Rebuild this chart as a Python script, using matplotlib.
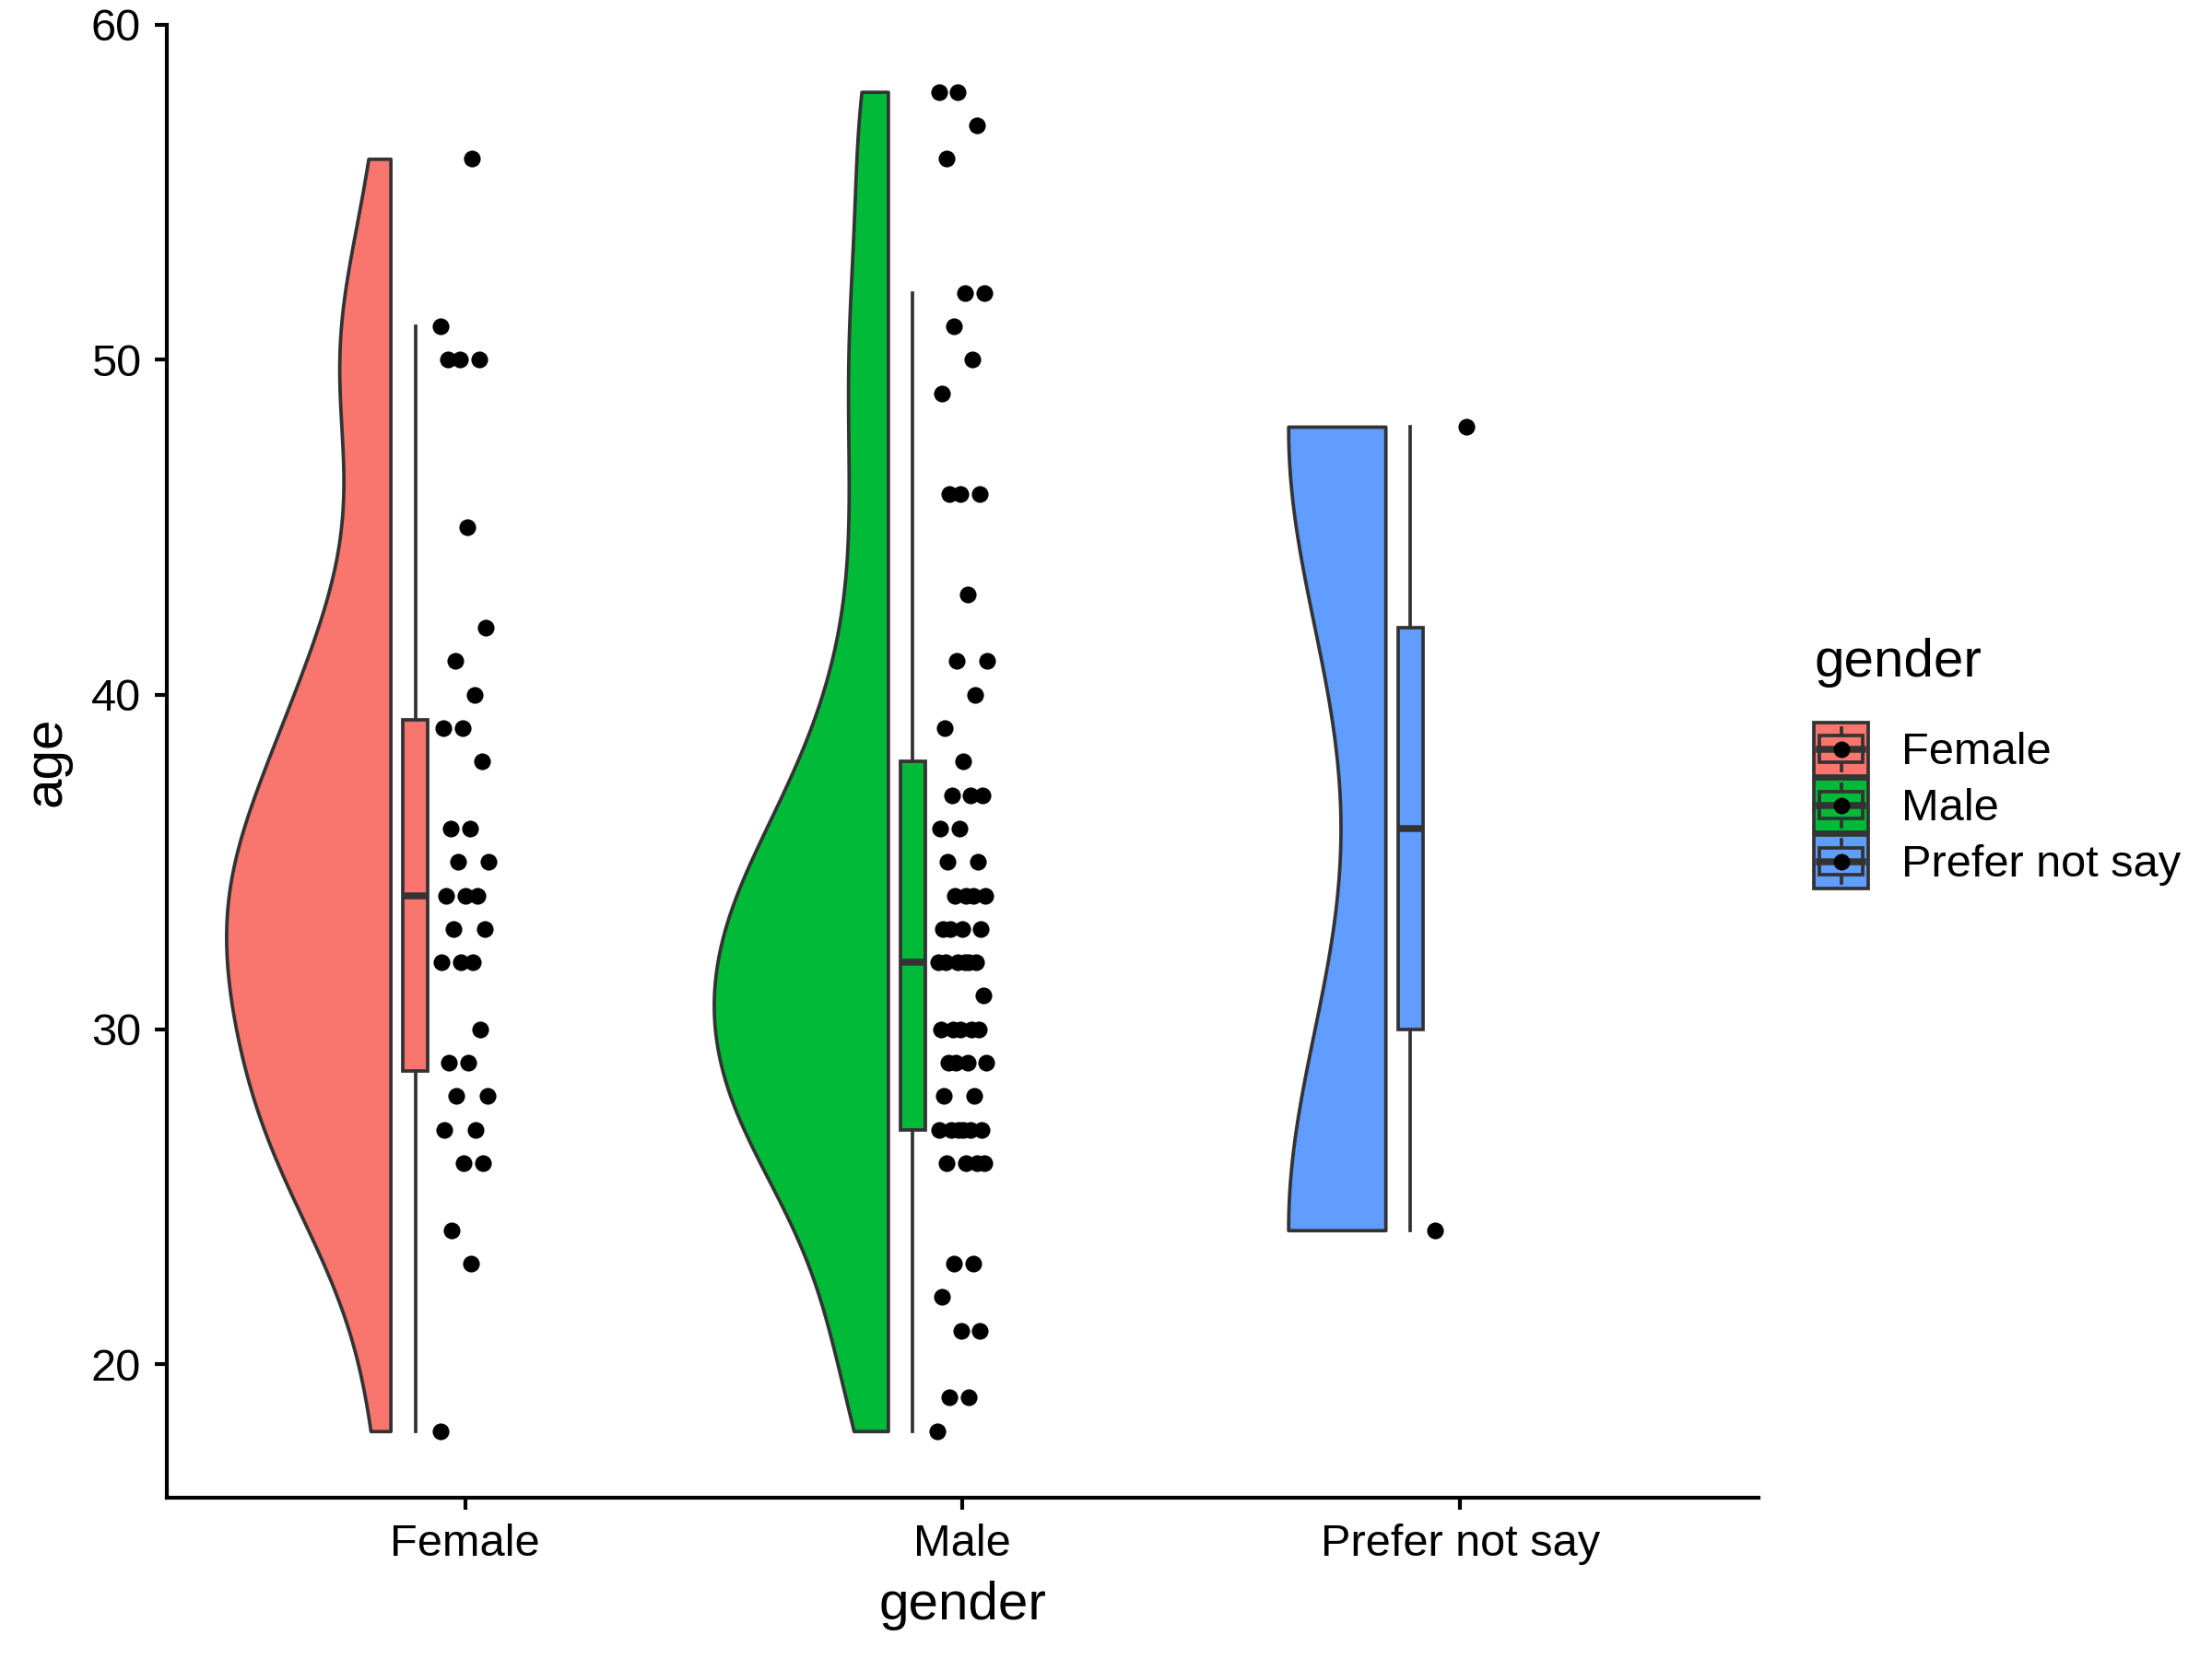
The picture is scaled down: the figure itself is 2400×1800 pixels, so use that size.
import numpy as np
import matplotlib
matplotlib.use("Agg")
import matplotlib.pyplot as plt
from matplotlib.legend_handler import HandlerBase
from matplotlib.patches import Rectangle, Patch
from matplotlib.lines import Line2D

plt.rcParams['font.family'] = ['Liberation Sans', 'DejaVu Sans']

# --- data: ages (value, count) ---
groups = ["Female", "Male", "Prefer not say"]
colors = ["#F8766D", "#00BA38", "#619CFF"]

female_vals = [56, 51, 50, 45, 42, 41, 40, 39, 38, 36, 35, 34, 33, 32, 30, 29, 28, 27, 26, 24, 23, 18]
female_cnts = [1, 1, 3, 1, 1, 1, 1, 2, 1, 2, 2, 3, 2, 3, 1, 2, 2, 2, 2, 1, 1, 1]

male_vals = [58, 57, 56, 52, 51, 50, 49, 46, 43, 41, 40, 39, 38, 37, 36, 35, 34, 33, 32, 31,
             30, 29, 28, 27, 26, 23, 22, 21, 19, 18]
male_cnts = [2, 1, 1, 2, 1, 1, 1, 3, 1, 2, 1, 1, 1, 3, 2, 2, 4, 4, 6, 1,
             5, 4, 2, 6, 4, 2, 1, 2, 2, 1]

pns_vals = [48, 24]
pns_cnts = [1, 1]

ages = [np.sort(np.repeat(female_vals, female_cnts)).astype(float),
        np.sort(np.repeat(male_vals, male_cnts)).astype(float),
        np.sort(np.repeat(pns_vals, pns_cnts)).astype(float)]

EDGE = "#333333"


def bw_nrd0(x):
    hi = np.std(x, ddof=1)
    iqr = np.subtract(*np.percentile(x, [75, 25]))
    lo = min(hi, iqr / 1.34)
    return 0.9 * lo * len(x) ** (-0.2)


def kde(x, grid):
    bw = bw_nrd0(x)
    z = (grid[:, None] - x[None, :]) / bw
    return np.exp(-0.5 * z ** 2).sum(axis=1) / (len(x) * bw * np.sqrt(2 * np.pi))


# density per group, trimmed to data range
grids, dens = [], []
for a in ages:
    g = np.linspace(a.min(), a.max(), 512)
    grids.append(g)
    dens.append(kde(a, g))
dmax = max(d.max() for d in dens)

fig = plt.figure(figsize=(8, 6), dpi=300)
ax = fig.add_axes([0.0753, 0.097, 0.7197, 0.888])

positions = np.arange(1, len(groups) + 1)
half_w = 0.35
for i, (p, a) in enumerate(zip(positions, ages)):
    w = half_w * dens[i] / dmax
    ax.fill_betweenx(grids[i], p - 0.15 - w, p - 0.15, facecolor=colors[i],
                     edgecolor=EDGE, linewidth=0.9, zorder=2)

bp = ax.boxplot(ages, positions=positions - 0.1, widths=0.05, patch_artist=True,
                showfliers=False, showcaps=False, whis=1.5, manage_ticks=False,
                boxprops=dict(edgecolor=EDGE, linewidth=0.9),
                whiskerprops=dict(color=EDGE, linewidth=0.9),
                medianprops=dict(color=EDGE, linewidth=1.8), zorder=3)
for patch, c in zip(bp['boxes'], colors):
    patch.set_facecolor(c)

# jittered points (deterministic spread)
for p, a in zip(positions, ages):
    off = ((np.arange(len(a)) * 0.618034) % 1 - 0.5) * 0.1
    ax.scatter(p + off, a, s=19, color="black", linewidths=0, zorder=4)

ax.set_xlim(0.4, 3.6)
ax.set_ylim(16, 60)
ax.set_xticks(positions, groups)
ax.set_yticks([20, 30, 40, 50, 60])
ax.spines['top'].set_visible(False)
ax.spines['right'].set_visible(False)
for s in ['left', 'bottom']:
    ax.spines[s].set_linewidth(1.0)
ax.tick_params(length=3.2, width=1.0, labelsize=11.7, pad=3.5, colors="black")
ax.set_xlabel("gender", fontsize=14, labelpad=4)
ax.set_ylabel("age", fontsize=14, labelpad=5)


class KeyHandler(HandlerBase):
    def create_artists(self, legend, orig_handle, xdescent, ydescent, width, height, fontsize, trans):
        c = orig_handle.get_facecolor()
        x0, y0 = -xdescent, -ydescent
        cx, cy = x0 + width / 2, y0 + height / 2
        arts = [Rectangle((x0, y0), width, height, facecolor=c, edgecolor=EDGE, lw=0.9, transform=trans),
                Line2D([cx, cx], [y0 + 0.1 * height, y0 + 0.25 * height], color=EDGE, lw=0.9, transform=trans),
                Line2D([cx, cx], [y0 + 0.75 * height, y0 + 0.9 * height], color=EDGE, lw=0.9, transform=trans),
                Rectangle((x0 + 0.1 * width, y0 + 0.25 * height), 0.8 * width, 0.5 * height,
                          facecolor=c, edgecolor=EDGE, lw=0.9, transform=trans),
                Line2D([x0 + 0.1 * width, x0 + 0.9 * width], [cy, cy], color=EDGE, lw=1.8, transform=trans),
                Line2D([cx], [cy], marker='o', ms=4.3, color="black", mew=0, transform=trans)]
        return arts


handles = [Patch(facecolor=c) for c in colors]
leg = fig.legend(handles, groups, title="gender", loc="center left",
                 bbox_to_anchor=(0.810, 0.54), frameon=False, fontsize=11.7,
                 title_fontsize=14, handler_map={Patch: KeyHandler()},
                 handlelength=1.2, handleheight=1.45, labelspacing=0.06,
                 handletextpad=0.75, borderpad=0, alignment="left")
leg._legend_box.sep = 9

fig.savefig("out.png", dpi=300)
